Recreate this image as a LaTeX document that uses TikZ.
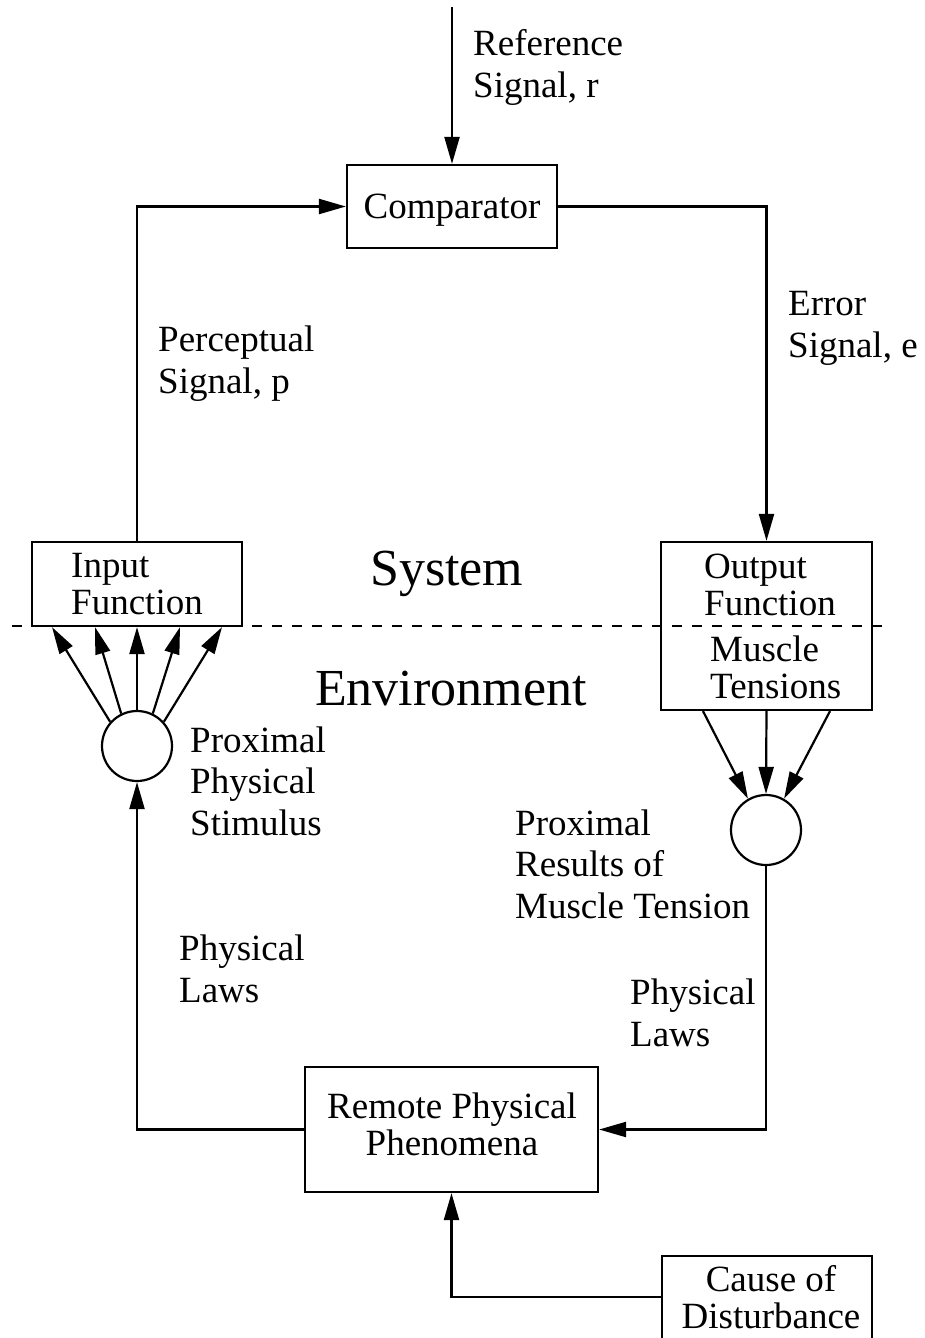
\documentclass[tikz,border=0pt]{standalone}
\usepackage{fontspec}
\setmainfont{Liberation Serif}
\usetikzlibrary{arrows.meta}
\begin{document}
\begin{tikzpicture}[x=1pt,y=-1pt,
  lbl/.style={font=\fontsize{37}{41.5}\selectfont, align=left, inner sep=0pt, anchor=base west},
  boxtxt/.style={font=\fontsize{37}{37}\selectfont, inner sep=0pt},
  big/.style={font=\fontsize{52}{60}\selectfont, inner sep=0pt, anchor=base west},
  blk/.style={draw, line width=2.2pt, inner sep=0pt},
  arr/.style={line width=2.2pt, -{Triangle[length=27pt,width=15pt]}},
  sep/.style={line width=1.8pt, dash pattern=on 10pt off 10pt}]
\clip (0,0) rectangle (924,1338);
\fill[white] (0,0) rectangle (924,1338);

% separator
\coordinate (dl) at (12,626);
\coordinate (dr) at (892,626);
\draw[sep] (dl) -- (dr);

% blocks
\node[blk, boxtxt, text depth=0pt, minimum width=210pt, minimum height=83pt] (comp) at (452,206.5) {Comparator};
\node[blk, boxtxt, align=left, minimum width=210pt, minimum height=84pt] (inp) at (137,584) {Input\\Function};
\node[blk, minimum width=211pt, minimum height=168pt] (ob) at (766.5,626) {};
\node[boxtxt, align=left, anchor=base west] (obtxt) at (704,615) {Output\\Function};
\node[boxtxt, align=left, anchor=base west] (mttxt) at (710,698) {Muscle\\Tensions};
\node[blk, minimum width=293pt, minimum height=125pt] (remote) at (451.5,1129.5) {};
\node[boxtxt, align=center, anchor=base] (remtxt) at (452,1155) {Remote Physical\\Phenomena};
\node[blk, minimum width=210pt, minimum height=140pt] (cause) at (767,1326) {};
\node[boxtxt, align=center, anchor=base] (caustxt) at (771,1328) {Cause of\\Disturbance};

% circles
\node[draw, circle, line width=2.2pt, minimum size=70pt, inner sep=0pt] (lc) at (137,746) {};
\node[draw, circle, line width=2.2pt, minimum size=70pt, inner sep=0pt] (rc) at (766,830) {};

% labels
\node[lbl] (reflbl) at (473,97) {Reference\\Signal, r};
\node[lbl] (perclbl) at (158,393) {Perceptual\\Signal, p};
\node[lbl] (errlbl) at (788,357) {Error\\Signal, e};
\node[big] (syslbl) at (370,585) {System};
\node[big] (envlbl) at (315,705) {Environment};
\node[lbl] (stimlbl) at (190,835) {Proximal\\Physical\\Stimulus};
\node[lbl] (reslbl) at (515,918) {Proximal\\Results of\\Muscle Tension};
\node[lbl] (lawsl) at (179,1002) {Physical\\Laws};
\node[lbl] (lawsr) at (630,1046) {Physical\\Laws};

% connectors
\coordinate (reftop) at (452,7);
\draw[arr] (reftop) -- (comp.north);
\draw[arr] (inp.north) |- (comp.west);
\draw[arr] (comp.east) -| (ob.north);
\draw[arr] (lc.138) -- ([xshift=-85pt]inp.south);
\draw[arr] (lc.116) -- ([xshift=-42pt]inp.south);
\draw[arr] (lc.90) -- (inp.south);
\draw[arr] (lc.64) -- ([xshift=43pt]inp.south);
\draw[arr] (lc.42) -- ([xshift=85pt]inp.south);
\draw[arr] ([xshift=-63.5pt]ob.south) -- (rc.120);
\draw[arr] (ob.south) -- (rc.90);
\draw[arr] ([xshift=63.5pt]ob.south) -- (rc.60);
\draw[arr] (rc.south) |- (remote.east);
\draw[arr] (remote.west) -| (lc.south);
\draw[arr] ([yshift=29pt]cause.west) -| (remote.south);
\end{tikzpicture}
\end{document}
